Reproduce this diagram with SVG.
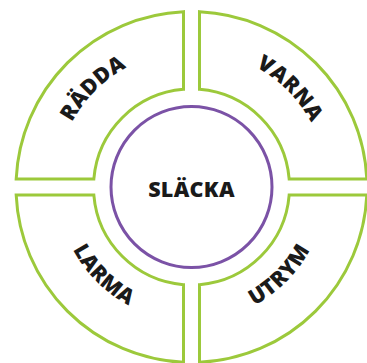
<svg xmlns="http://www.w3.org/2000/svg" xmlns:xlink="http://www.w3.org/1999/xlink" width="367" height="363" viewBox="0 0 367 363">
<style>
.seg{fill:#ffffff;stroke:#9cc93b;stroke-width:3}
.core{fill:#ffffff;stroke:#7b52a6;stroke-width:3}
.lbl{font-family:"Open Sans","DejaVu Sans",sans-serif;font-weight:800;font-size:21.5px;fill:#1a1a1a;letter-spacing:0.3px}
</style>
<defs>
<path id="pTL" d="M 55.5,187 A 136 136 0 0 1 191.5,51"/>
<path id="pTR" d="M 191.5,51 A 136 136 0 0 1 327.5,187"/>
<path id="pBL" d="M 57.5,187 A 134 134 0 0 0 191.5,321"/>
<path id="pBR" d="M 191.5,321 A 134 134 0 0 0 325.5,187"/>
</defs>
<rect width="367" height="363" fill="#ffffff"/>
<g id="connectors"></g>
<g id="radda">
<path class="seg" d="M 183.5,11.68 L 183.5,89.33 A 98 98 0 0 0 93.83,179 L 16.18,179 A 175.5 175.5 0 0 1 183.5,11.68 Z"/>
<text class="lbl" text-anchor="middle"><textPath xlink:href="#pTL" href="#pTL" startOffset="50%">RÄDDA</textPath></text>
</g>
<g id="varna">
<path class="seg" d="M 199.5,11.68 A 175.5 175.5 0 0 1 366.82,179 L 289.17,179 A 98 98 0 0 0 199.5,89.33 Z"/>
<text class="lbl" text-anchor="middle"><textPath xlink:href="#pTR" href="#pTR" startOffset="50%">VARNA</textPath></text>
</g>
<g id="larma">
<path class="seg" d="M 16.18,195 L 93.83,195 A 98 98 0 0 0 183.5,284.67 L 183.5,362.32 A 175.5 175.5 0 0 1 16.18,195 Z"/>
<text class="lbl" text-anchor="middle"><textPath xlink:href="#pBL" href="#pBL" startOffset="50%">LARMA</textPath></text>
</g>
<g id="utrym">
<path class="seg" d="M 289.17,195 L 366.82,195 A 175.5 175.5 0 0 1 199.5,362.32 L 199.5,284.67 A 98 98 0 0 0 289.17,195 Z"/>
<text class="lbl" text-anchor="middle"><textPath xlink:href="#pBR" href="#pBR" startOffset="50%">UTRYM</textPath></text>
</g>
<g id="slacka">
<circle class="core" cx="191.5" cy="187" r="80.5"/>
<text class="lbl" x="191.5" y="197" text-anchor="middle">SLÄCKA</text>
</g>
</svg>
